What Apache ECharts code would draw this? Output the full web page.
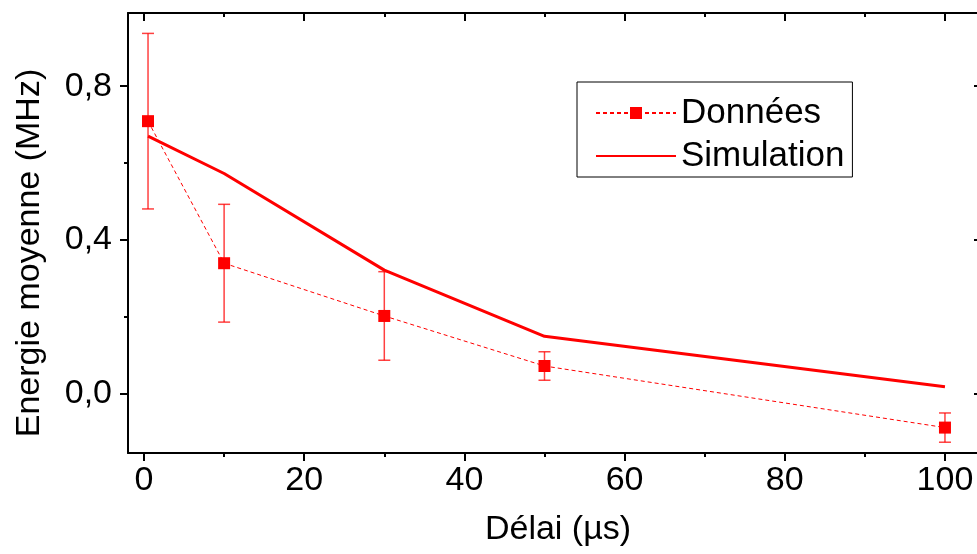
<!DOCTYPE html>
<html>
<head>
<meta charset="utf-8">
<script src="https://cdn.jsdelivr.net/npm/echarts@6/dist/echarts.min.js"></script>
<style>
html,body{margin:0;padding:0;background:#fff;}
#chart{width:977px;height:554px;}
</style>
</head>
<body>
<div id="chart"></div>
<script>
// Data
var delays = [0.5, 10, 30, 50, 100];
var dataValues = [0.709, 0.340, 0.203, 0.073, -0.087];
var dataErrors = [0.228, 0.153, 0.115, 0.037, 0.038];
var simValues = [0.670, 0.573, 0.322, 0.150, 0.019];
var xMajorTicks = [0, 20, 40, 60, 80, 100];
var xMinorTicks = [10, 30, 50, 70, 90];
var yMajorTicks = [0, 0.4, 0.8];
var yMinorTicks = [0.2, 0.6];
var seriesNames = ['Données', 'Simulation'];
var xTitle = 'Délai (µs)';
var yTitle = 'Energie moyenne (MHz)';

var FONT = 'Liberation Sans, Arial, Helvetica, sans-serif';
var RED = '#ff0000';
var XMIN = -2, XMAX = 104, YMIN = -0.153, YMAX = 0.99;

function xAxisDef(pos, ticks, len, inside, showLine, showLabel) {
  return {
    type: 'value', position: pos, min: XMIN, max: XMAX, gridIndex: 0,
    axisLine: { show: showLine, onZero: false, lineStyle: { color: '#000', width: 2 } },
    axisTick: { show: true, customValues: ticks, length: len, inside: inside, lineStyle: { color: '#000', width: 2 } },
    axisLabel: showLabel ? { show: true, customValues: ticks, fontSize: 34, fontFamily: FONT, color: '#000', margin: 11 } : { show: false },
    splitLine: { show: false }
  };
}
function yAxisDef(pos, ticks, len, inside, showLine, showLabel) {
  return {
    type: 'value', position: pos, min: YMIN, max: YMAX, gridIndex: 0,
    axisLine: { show: showLine, onZero: false, lineStyle: { color: '#000', width: 2 } },
    axisTick: { show: true, customValues: ticks, length: len, inside: inside, lineStyle: { color: '#000', width: 2 } },
    axisLabel: showLabel ? { show: true, customValues: ticks, fontSize: 34, fontFamily: FONT, color: '#000', margin: 16,
      formatter: function (v) { return v.toFixed(1).replace('.', ','); } } : { show: false },
    splitLine: { show: false }
  };
}

var dataPoints = delays.map(function (d, i) { return [d, dataValues[i]]; });
var simPoints = delays.map(function (d, i) { return [d, simValues[i]]; });
var errPoints = delays.map(function (d, i) { return [d, dataValues[i] - dataErrors[i], dataValues[i] + dataErrors[i]]; });

var chart = echarts.init(document.getElementById('chart'), null, { renderer: 'canvas' });
chart.setOption({
  animation: false,
  backgroundColor: '#fff',
  grid: { left: 128, top: 13, width: 850, height: 440, containLabel: false },
  xAxis: [
    xAxisDef('bottom', xMajorTicks, 8, false, true, true),
    xAxisDef('bottom', xMinorTicks, 4, false, false, false),
    xAxisDef('top', xMajorTicks, 8, true, true, false),
    xAxisDef('top', xMinorTicks, 4, true, false, false)
  ],
  yAxis: [
    yAxisDef('left', yMajorTicks, 8, false, true, true),
    yAxisDef('left', yMinorTicks, 4, false, false, false),
    yAxisDef('right', yMajorTicks, 3, true, false, false)
  ],
  legend: {
    data: [
      { name: seriesNames[0] },
      { name: seriesNames[1], itemStyle: { opacity: 0 } }
    ],
    orient: 'vertical',
    left: 577, top: 82,
    borderColor: '#000', borderWidth: 1,
    padding: [12, 8, 2, 18],
    itemWidth: 80, itemHeight: 15, itemGap: 5,
    textStyle: { fontSize: 35, fontFamily: FONT, color: '#000', lineHeight: 38 }
  },
  graphic: [
    { type: 'text', x: 558, y: 530, style: { text: xTitle, font: '34px ' + FONT, fill: '#000', textAlign: 'center', textVerticalAlign: 'middle' } },
    { type: 'text', x: 30, y: 253, rotation: Math.PI / 2, style: { text: yTitle, font: '34px ' + FONT, fill: '#000', textAlign: 'center', textVerticalAlign: 'middle' } }
  ],
  series: [
    {
      name: 'Données', type: 'line', data: dataPoints, xAxisIndex: 0, yAxisIndex: 0,
      symbol: 'rect', symbolSize: 12,
      itemStyle: { color: RED },
      lineStyle: { color: RED, width: 1, type: [4, 3] },
      z: 4
    },
    {
      name: 'Simulation', type: 'line', data: simPoints, xAxisIndex: 0, yAxisIndex: 0,
      symbol: 'none', showSymbol: false,
      itemStyle: { color: RED },
      lineStyle: { color: RED, width: 3 },
      z: 3
    },
    {
      name: 'errors', type: 'custom', data: errPoints, xAxisIndex: 0, yAxisIndex: 0,
      z: 2,
      renderItem: function (params, api) {
        var lo = api.coord([api.value(0), api.value(1)]);
        var hi = api.coord([api.value(0), api.value(2)]);
        var w = 6;
        var st = { stroke: 'rgba(255,0,0,0.75)', lineWidth: 1.5 };
        return {
          type: 'group',
          children: [
            { type: 'line', shape: { x1: lo[0], y1: lo[1], x2: hi[0], y2: hi[1] }, style: st },
            { type: 'line', shape: { x1: lo[0] - w, y1: lo[1], x2: lo[0] + w, y2: lo[1] }, style: st },
            { type: 'line', shape: { x1: hi[0] - w, y1: hi[1], x2: hi[0] + w, y2: hi[1] }, style: st }
          ]
        };
      }
    }
  ]
});
</script>
</body>
</html>
